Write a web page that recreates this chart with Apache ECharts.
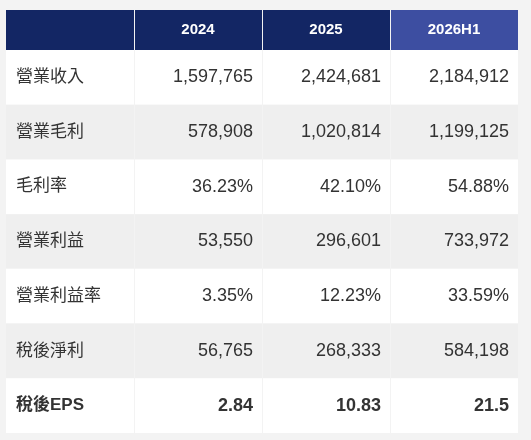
<!DOCTYPE html><html><head><meta charset="utf-8">
<script src="https://cdn.jsdelivr.net/npm/echarts@6/dist/echarts.min.js"></script>
<style>html,body{margin:0;background:#f3f3f3}#c{width:531px;height:440px}</style></head><body><div id="c"></div>
<script>
const columns = ['', '2024', '2025', '2026H1'];
const rowLabels = ['營業收入','營業毛利','毛利率','營業利益','營業利益率','稅後淨利','稅後EPS'];
const v2024 = ['1,597,765','578,908','36.23%','53,550','3.35%','56,765','2.84'];
const v2025 = ['2,424,681','1,020,814','42.10%','296,601','12.23%','268,333','10.83'];
const v2026 = ['2,184,912','1,199,125','54.88%','733,972','33.59%','584,198','21.5'];
const valueCols = [v2024, v2025, v2026];

const headerData = columns.map((c,i)=>[i,0,c]);
const bodyData = [];
rowLabels.forEach((lab,r)=>{
  bodyData.push([0,r,lab]);
  valueCols.forEach((vals,ci)=>bodyData.push([ci+1,r,vals[r]]));
});
const font = '"Liberation Sans","Noto Sans CJK TC",Arial,sans-serif';
function headerItem(params, api){
  const c = api.value(0);
  const p = api.coord([c,0]); const s = api.size([1,1]);
  const x0 = p[0]-s[0]/2, y0 = p[1]-s[1]/2;
  return {type:'group',children:[
    {type:'rect',shape:{x:x0+(c>0?1:0),y:y0,width:s[0]-(c>0?1:0),height:s[1]},style:{fill:c===3?'#3d4ea1':'#132664'}},
    {type:'text',style:{text:api.value(2),x:p[0],y:p[1],align:'center',verticalAlign:'middle',fill:'#fff',font:'bold 15px '+font}}
  ]};
}
function bodyItem(params, api){
  const c = api.value(0), r = api.value(1);
  const p = api.coord([c,r]); const s = api.size([1,1]);
  const x0 = p[0]-s[0]/2, y0 = p[1]-s[1]/2;
  const bold = r===6;
  const fill = r%2===1 ? '#efefef' : '#ffffff';
  return {type:'group',children:[
    {type:'rect',shape:{x:x0+(c>0?1:0),y:y0,width:s[0]-(c>0?1:0),height:s[1]},style:{fill:fill}},
    {type:'text',style:{text:api.value(2),x:c===0?x0+10:x0+s[0]-9,y:p[1],align:c===0?'left':'right',verticalAlign:'middle',fill:'#333',font:(bold?'bold ':'')+(c===0?'17px ':'18px ')+font}}
  ]};
}
const chart = echarts.init(document.getElementById('c'));
chart.setOption({
  animation:false,
  grid:[{left:6,right:13,top:10,height:40},{left:6,right:13,top:50,height:383}],
  xAxis:[{type:'category',data:columns,gridIndex:0,show:false},{type:'category',data:columns,gridIndex:1,show:false}],
  yAxis:[{type:'category',data:['h'],gridIndex:0,show:false},{type:'category',data:rowLabels,gridIndex:1,show:false,inverse:true}],
  series:[
    {type:'custom',xAxisIndex:0,yAxisIndex:0,renderItem:headerItem,data:headerData},
    {type:'custom',xAxisIndex:1,yAxisIndex:1,renderItem:bodyItem,data:bodyData}
  ]
});
</script></body></html>
